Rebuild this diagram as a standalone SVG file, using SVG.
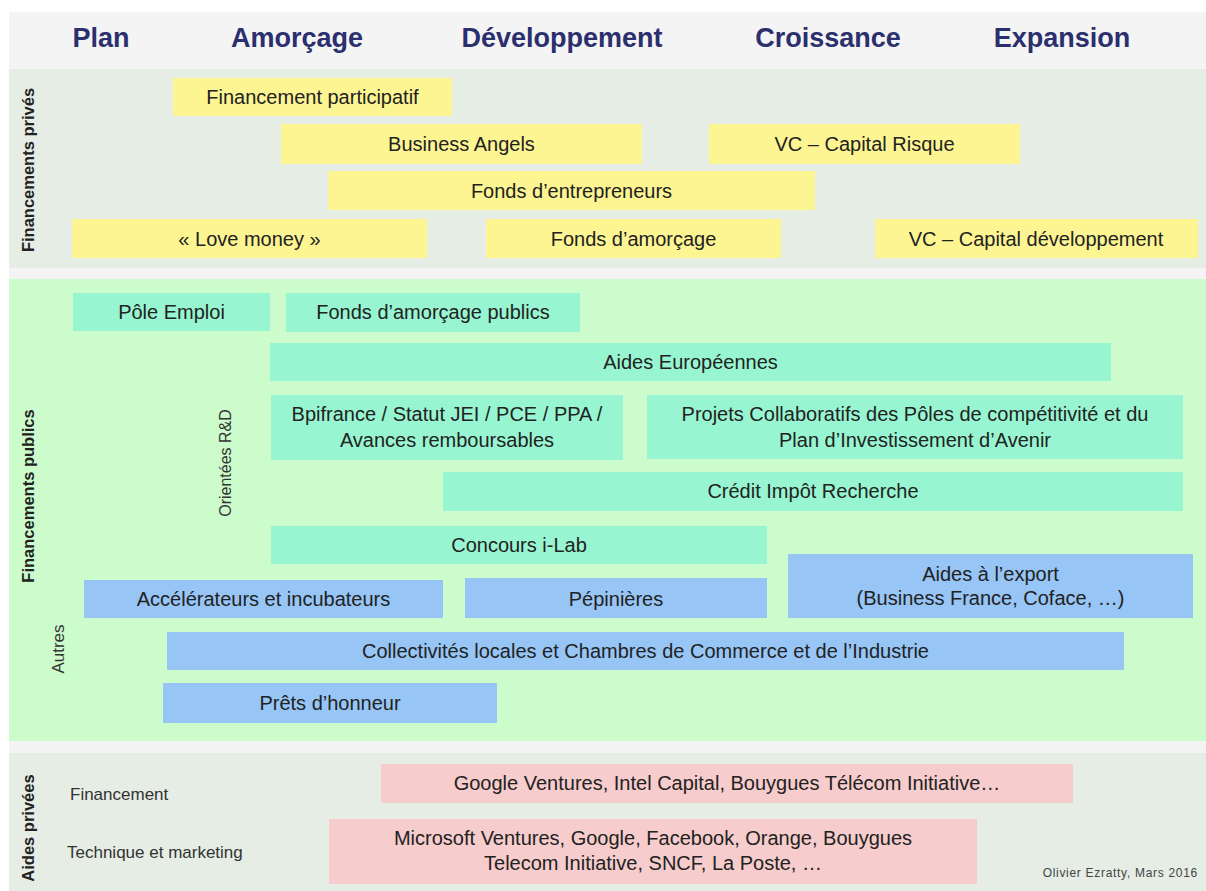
<svg xmlns="http://www.w3.org/2000/svg" width="1206" height="891" viewBox="0 0 1206 891">
<style>
text{font-family:"Liberation Sans",Arial,sans-serif}
.hd{font-size:27px;font-weight:bold;fill:#2b2f6e;text-anchor:middle}
.bx{font-size:20px;fill:#222;text-anchor:middle}
.vl{font-size:16.5px;font-weight:bold;fill:#222;text-anchor:middle}
.vs{font-size:16px;fill:#333;text-anchor:middle}
.lb{font-size:17px;fill:#333}
.y{fill:#fcf592}
.t{fill:#97f6d1}
.b{fill:#96c5f6}
.p{fill:#f6cccc}
</style>
<rect x="0" y="0" width="1206" height="891" fill="#ffffff"/>
<g id="bands">
<rect x="9" y="12" width="1197" height="57" fill="#f4f4f4"/>
<rect x="9" y="69" width="1197" height="199" fill="#e5ede5"/>
<rect x="9" y="268" width="1197" height="11" fill="#f4f4f4"/>
<rect x="9" y="279" width="1197" height="462" fill="#ccfccc"/>
<rect x="9" y="741" width="1197" height="12" fill="#f4f4f4"/>
<rect x="9" y="753" width="1197" height="138" fill="#e5ede5"/>
</g>
<g id="header">
<text class="hd" x="101" y="47">Plan</text>
<text class="hd" x="297" y="47">Amorçage</text>
<text class="hd" x="562" y="47">Développement</text>
<text class="hd" x="828" y="47">Croissance</text>
<text class="hd" x="1062" y="47">Expansion</text>
</g>
<g id="side-labels">
<text class="vl" transform="translate(34,170) rotate(-90)">Financements privés</text>
<text class="vl" transform="translate(34,496) rotate(-90)">Financements publics</text>
<text class="vl" transform="translate(34,828) rotate(-90)">Aides privées</text>
<text class="vs" transform="translate(231,463) rotate(-90)">Orientées R&amp;D</text>
<text class="vs" transform="translate(64,649) rotate(-90)" style="font-size:17px">Autres</text>
<text class="lb" x="70" y="800">Financement</text>
<text class="lb" x="67" y="858">Technique et marketing</text>
</g>
<g id="financement-participatif"><rect class="y" x="173" y="78" width="279" height="38"/><text class="bx" x="312.5" y="104">Financement participatif</text></g>
<g id="business-angels"><rect class="y" x="281" y="124" width="361" height="40"/><text class="bx" x="461.5" y="151">Business Angels</text></g>
<g id="vc-capital-risque"><rect class="y" x="709" y="124" width="311" height="40"/><text class="bx" x="864.5" y="151">VC – Capital Risque</text></g>
<g id="fonds-entrepreneurs"><rect class="y" x="328" y="171" width="487" height="39"/><text class="bx" x="571.5" y="197.5">Fonds d’entrepreneurs</text></g>
<g id="love-money"><rect class="y" x="72" y="219" width="355" height="39"/><text class="bx" x="249.5" y="245.5">« Love money »</text></g>
<g id="fonds-amorcage"><rect class="y" x="486" y="219" width="295" height="39"/><text class="bx" x="633.5" y="245.5">Fonds d’amorçage</text></g>
<g id="vc-capital-developpement"><rect class="y" x="875" y="219" width="323" height="39"/><text class="bx" x="1036" y="245.5">VC – Capital développement</text></g>
<g id="pole-emploi"><rect class="t" x="73" y="293" width="197" height="38"/><text class="bx" x="171.5" y="319">Pôle Emploi</text></g>
<g id="fonds-amorcage-publics"><rect class="t" x="286" y="293" width="294" height="39"/><text class="bx" x="433" y="319">Fonds d’amorçage publics</text></g>
<g id="aides-europeennes"><rect class="t" x="270" y="343" width="841" height="38"/><text class="bx" x="690.5" y="369">Aides Européennes</text></g>
<g id="bpifrance"><rect class="t" x="271" y="395" width="352" height="65"/><text class="bx" x="447" y="421">Bpifrance / Statut JEI / PCE / PPA /</text><text class="bx" x="447" y="447">Avances remboursables</text></g>
<g id="projets-collaboratifs"><rect class="t" x="647" y="395" width="536" height="64"/><text class="bx" x="915" y="421">Projets Collaboratifs des Pôles de compétitivité et du</text><text class="bx" x="915" y="447">Plan d’Investissement d’Avenir</text></g>
<g id="credit-impot-recherche"><rect class="t" x="443" y="472" width="740" height="39"/><text class="bx" x="813" y="498">Crédit Impôt Recherche</text></g>
<g id="concours-ilab"><rect class="t" x="271" y="526" width="496" height="38"/><text class="bx" x="519" y="552">Concours i-Lab</text></g>
<g id="accelerateurs"><rect class="b" x="84" y="580" width="359" height="38"/><text class="bx" x="263.5" y="606">Accélérateurs et incubateurs</text></g>
<g id="pepinieres"><rect class="b" x="465" y="578" width="302" height="40"/><text class="bx" x="616" y="606">Pépinières</text></g>
<g id="aides-export"><rect class="b" x="788" y="554" width="405" height="64"/><text class="bx" x="990.5" y="581">Aides à l’export</text><text class="bx" x="990.5" y="605">(Business France, Coface, …)</text></g>
<g id="collectivites"><rect class="b" x="167" y="632" width="957" height="38"/><text class="bx" x="645.5" y="658">Collectivités locales et Chambres de Commerce et de l’Industrie</text></g>
<g id="prets-honneur"><rect class="b" x="163" y="683" width="334" height="40"/><text class="bx" x="330" y="710">Prêts d’honneur</text></g>
<g id="financement-prive"><rect class="p" x="381" y="764" width="692" height="39"/><text class="bx" x="727" y="790">Google Ventures, Intel Capital, Bouygues Télécom Initiative…</text></g>
<g id="technique-marketing"><rect class="p" x="329" y="819" width="648" height="65"/><text class="bx" x="653" y="845">Microsoft Ventures, Google, Facebook, Orange, Bouygues</text><text class="bx" x="653" y="870">Telecom Initiative, SNCF, La Poste, …</text></g>
<g id="credit"><text x="1198" y="877" style="font-size:12px;fill:#444;text-anchor:end;letter-spacing:0.7px">Olivier Ezratty, Mars 2016</text></g>
</svg>
